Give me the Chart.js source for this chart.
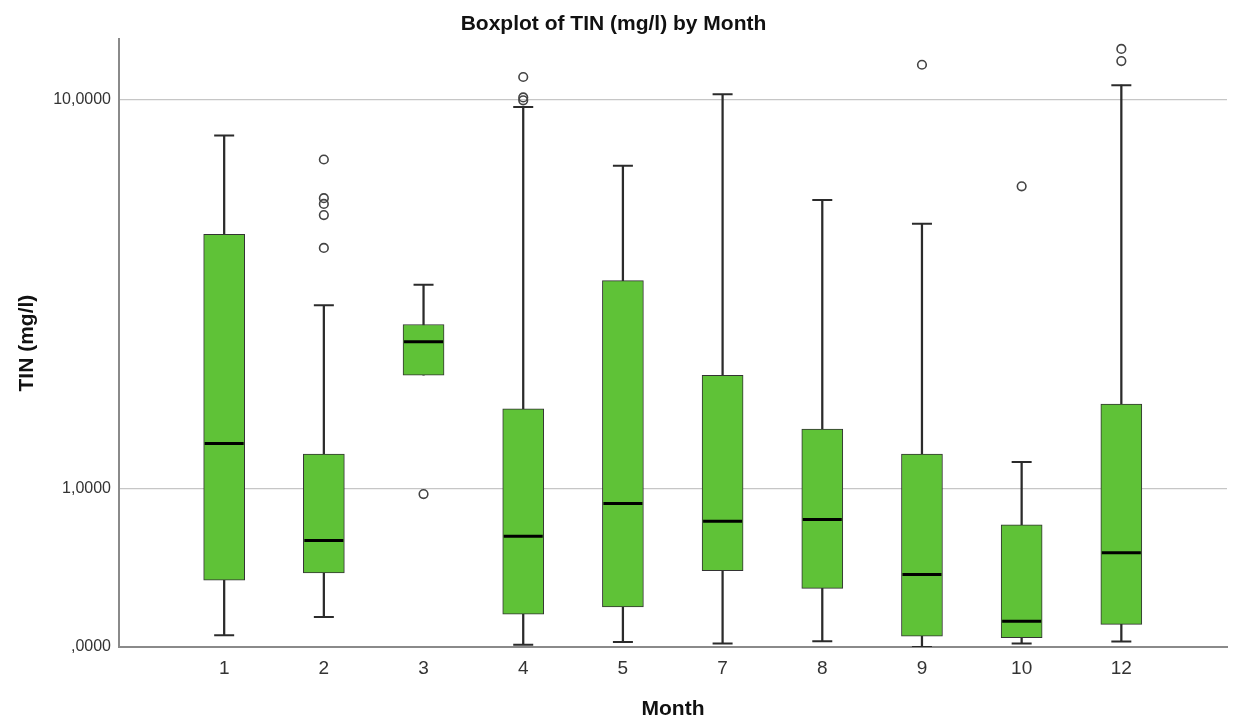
<!DOCTYPE html>
<html>
<head>
<meta charset="utf-8">
<title>Boxplot of TIN (mg/l) by Month</title>
<script src="https://cdn.jsdelivr.net/npm/chart.js@4/dist/chart.umd.min.js"></script>
<style>
  html, body { margin: 0; padding: 0; background: #ffffff; }
  canvas { display: block; }
</style>
</head>
<body>
<canvas id="chart" width="1237" height="722"></canvas>
<script>
// Months sampled (categories on the x axis)
const months = ['1', '2', '3', '4', '5', '7', '8', '9', '10', '12'];

// Five-number summaries of TIN (mg/l) per month
const whiskerLow  = [0.053, 0.14, 2.29, 0.010, 0.022, 0.015, 0.025, 0.000, 0.015, 0.024];
const q1          = [0.341, 0.383, 2.29, 0.155, 0.192, 0.398, 0.293, 0.049, 0.042, 0.104];
const median      = [1.44, 0.594, 2.81, 0.625, 0.876, 0.736, 0.748, 0.374, 0.120, 0.511];
const q3          = [5.10, 1.33, 3.11, 1.84, 3.98, 2.29, 1.60, 1.33, 0.708, 1.90];
const whiskerHigh = [8.41, 3.47, 3.89, 9.66, 7.24, 10.27, 6.09, 5.39, 1.25, 10.73];

// Outlying observations per month
const outliers = [
  [],
  [7.47, 6.15, 5.97, 5.64, 4.75],
  [0.955],
  [11.16, 10.12, 9.98],
  [],
  [],
  [],
  [11.83],
  [6.53],
  [12.75, 12.04]
];

// Value axis ticks and their labels (comma decimal separator)
const yTickValues = [0, 1, 10];
const yTickLabels = [',0000', '1,0000', '10,0000'];

// "Safe log" transform: log10(x + 1), keeps zero on the axis
const safeLog = v => Math.log10(v + 1);
const safeExp = t => Math.pow(10, t) - 1;

class SafeLogScale extends Chart.Scale {
  static id = 'safelog';
  static defaults = {};
  determineDataLimits() {
    const { min, max } = this.getMinMax(true);
    this.min = this.options.min ?? min;
    this.max = this.options.max ?? max;
  }
  buildTicks() {
    return yTickValues.map(v => ({ value: v }));
  }
  getLabelForValue(value) {
    return String(value);
  }
  configure() {
    super.configure();
    this._tStart = safeLog(this.min);
    this._tRange = safeLog(this.max) - this._tStart;
  }
  getPixelForValue(value) {
    if (value === null || value === undefined || isNaN(value)) return NaN;
    return this.getPixelForDecimal((safeLog(value) - this._tStart) / this._tRange);
  }
  getValueForPixel(pixel) {
    return safeExp(this._tStart + this.getDecimalForPixel(pixel) * this._tRange);
  }
}
Chart.register(SafeLogScale);

const FONT = '"Liberation Sans", Arial, sans-serif';
const BOX_FILL = '#5fc237';
const INK = '#2b2b2b';

const idx = months.map((_, i) => i);

const whiskerData = idx.map(i => ({ x: i, y: [whiskerLow[i], whiskerHigh[i]] }));
const boxData = idx.map(i => ({ x: i, y: [q1[i], q3[i]] }));
const medianData = idx.map(i => ({ x: i, y: median[i] }));
const capData = [];
idx.forEach(i => {
  capData.push({ x: i, y: whiskerHigh[i] });
  if (whiskerLow[i] < q1[i]) capData.push({ x: i, y: whiskerLow[i] });
});
const outlierData = [];
outliers.forEach((list, i) => list.forEach(v => outlierData.push({ x: i, y: v })));

new Chart(document.getElementById('chart'), {
  type: 'bar',
  data: {
    datasets: [
      {
        label: 'Whiskers',
        data: whiskerData,
        backgroundColor: INK,
        borderWidth: 0,
        barThickness: 1.6,
        grouped: false,
        order: 5
      },
      {
        label: 'Interquartile range',
        data: boxData,
        backgroundColor: BOX_FILL,
        borderColor: '#333333',
        borderWidth: 1,
        borderSkipped: false,
        barThickness: 41,
        grouped: false,
        order: 4
      },
      {
        type: 'scatter',
        label: 'Median',
        data: medianData,
        pointStyle: 'line',
        pointRadius: 19.5,
        pointHoverRadius: 19.5,
        borderColor: '#000000',
        borderWidth: 3,
        order: 3
      },
      {
        type: 'scatter',
        label: 'Whisker ends',
        data: capData,
        pointStyle: 'line',
        pointRadius: 10,
        pointHoverRadius: 10,
        borderColor: INK,
        borderWidth: 2,
        order: 2
      },
      {
        type: 'scatter',
        label: 'Outliers',
        data: outlierData,
        pointStyle: 'circle',
        pointRadius: 4.3,
        pointHoverRadius: 4.3,
        borderColor: '#444444',
        backgroundColor: 'rgba(0,0,0,0)',
        borderWidth: 1.6,
        order: 1
      }
    ]
  },
  options: {
    responsive: false,
    animation: false,
    layout: { autoPadding: false, padding: { left: 0, right: 10, top: 0, bottom: 0 } },
    plugins: {
      legend: { display: false },
      tooltip: { enabled: false },
      title: {
        display: true,
        text: 'Boxplot of TIN (mg/l) by Month',
        color: '#111111',
        font: { family: FONT, size: 21, weight: 'bold' },
        padding: { top: 12, bottom: 2 }
      }
    },
    scales: {
      x: {
        type: 'linear',
        offset: false,
        min: -1.055,
        max: 10.06,
        grid: { display: false, drawTicks: false, offset: false },
        border: { display: true, color: '#8a8a8a', width: 2 },
        afterBuildTicks: scale => { scale.ticks = idx.map(i => ({ value: i })); },
        afterFit: scale => {
          scale.height = 75;
          scale.paddingLeft = 0;
          scale.paddingRight = 0;
        },
        ticks: {
          padding: 10,
          autoSkip: false,
          maxRotation: 0,
          color: '#333333',
          font: { family: FONT, size: 19 },
          callback: value => months[value]
        },
        title: {
          display: true,
          text: 'Month',
          color: '#111111',
          font: { family: FONT, size: 21, weight: 'bold' },
          padding: { top: 0, bottom: 0 }
        }
      },
      y: {
        type: 'safelog',
        min: 0,
        max: 13.35,
        grid: {
          drawTicks: false,
          lineWidth: 1.2,
          color: ctx => (ctx.tick && ctx.tick.value === 0 ? 'rgba(0,0,0,0)' : '#c6c6c6')
        },
        border: { display: true, color: '#8a8a8a', width: 2 },
        afterFit: scale => { scale.width = 119; },
        ticks: {
          padding: 8,
          color: '#333333',
          font: { family: FONT, size: 16 },
          callback: value => yTickLabels[yTickValues.indexOf(value)]
        },
        title: {
          display: true,
          text: 'TIN (mg/l)',
          color: '#111111',
          font: { family: FONT, size: 21, weight: 'bold' },
          padding: { top: 15, bottom: 0 }
        }
      }
    }
  }
});
</script>
</body>
</html>
